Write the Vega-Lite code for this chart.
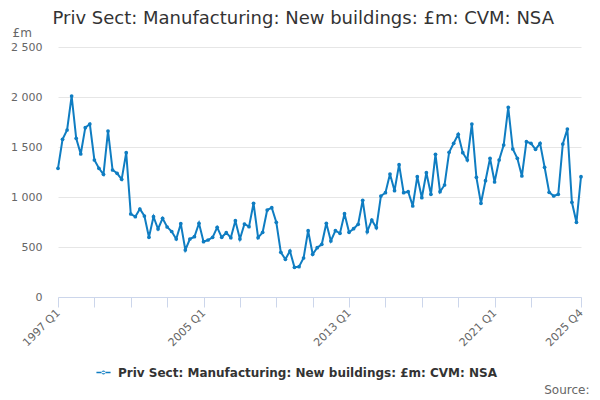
{
  "$schema": "https://vega.github.io/schema/vega-lite/v6.json",
  "autosize": "none",
  "width": 523,
  "height": 250,
  "padding": {"left": 58, "top": 47, "right": 19, "bottom": 103},
  "title": {
    "text": "Priv Sect: Manufacturing: New buildings: £m: CVM: NSA",
    "anchor": "start",
    "font": "DejaVu Sans",
    "fontSize": 18,
    "fontWeight": "normal",
    "color": "#333333",
    "dx": 42,
    "dy": 2,
    "offset": 0
  },
  "data": {
    "values": [
      {"q": "1997 Q1", "v": 1287}, {"q": "1997 Q2", "v": 1577}, {"q": "1997 Q3", "v": 1670}, {"q": "1997 Q4", "v": 2010},
      {"q": "1998 Q1", "v": 1587}, {"q": "1998 Q2", "v": 1430}, {"q": "1998 Q3", "v": 1693}, {"q": "1998 Q4", "v": 1730},
      {"q": "1999 Q1", "v": 1370}, {"q": "1999 Q2", "v": 1287}, {"q": "1999 Q3", "v": 1227}, {"q": "1999 Q4", "v": 1660},
      {"q": "2000 Q1", "v": 1270}, {"q": "2000 Q2", "v": 1237}, {"q": "2000 Q3", "v": 1177}, {"q": "2000 Q4", "v": 1443},
      {"q": "2001 Q1", "v": 830}, {"q": "2001 Q2", "v": 803}, {"q": "2001 Q3", "v": 880}, {"q": "2001 Q4", "v": 810},
      {"q": "2002 Q1", "v": 597}, {"q": "2002 Q2", "v": 803}, {"q": "2002 Q3", "v": 680}, {"q": "2002 Q4", "v": 787},
      {"q": "2003 Q1", "v": 700}, {"q": "2003 Q2", "v": 655}, {"q": "2003 Q3", "v": 580}, {"q": "2003 Q4", "v": 733},
      {"q": "2004 Q1", "v": 470}, {"q": "2004 Q2", "v": 580}, {"q": "2004 Q3", "v": 603}, {"q": "2004 Q4", "v": 737},
      {"q": "2005 Q1", "v": 553}, {"q": "2005 Q2", "v": 570}, {"q": "2005 Q3", "v": 597}, {"q": "2005 Q4", "v": 697},
      {"q": "2006 Q1", "v": 597}, {"q": "2006 Q2", "v": 643}, {"q": "2006 Q3", "v": 593}, {"q": "2006 Q4", "v": 763},
      {"q": "2007 Q1", "v": 580}, {"q": "2007 Q2", "v": 730}, {"q": "2007 Q3", "v": 703}, {"q": "2007 Q4", "v": 937},
      {"q": "2008 Q1", "v": 593}, {"q": "2008 Q2", "v": 647}, {"q": "2008 Q3", "v": 870}, {"q": "2008 Q4", "v": 893},
      {"q": "2009 Q1", "v": 747}, {"q": "2009 Q2", "v": 447}, {"q": "2009 Q3", "v": 377}, {"q": "2009 Q4", "v": 460},
      {"q": "2010 Q1", "v": 297}, {"q": "2010 Q2", "v": 303}, {"q": "2010 Q3", "v": 390}, {"q": "2010 Q4", "v": 663},
      {"q": "2011 Q1", "v": 427}, {"q": "2011 Q2", "v": 493}, {"q": "2011 Q3", "v": 527}, {"q": "2011 Q4", "v": 737},
      {"q": "2012 Q1", "v": 560}, {"q": "2012 Q2", "v": 663}, {"q": "2012 Q3", "v": 637}, {"q": "2012 Q4", "v": 833},
      {"q": "2013 Q1", "v": 647}, {"q": "2013 Q2", "v": 683}, {"q": "2013 Q3", "v": 727}, {"q": "2013 Q4", "v": 967},
      {"q": "2014 Q1", "v": 653}, {"q": "2014 Q2", "v": 770}, {"q": "2014 Q3", "v": 693}, {"q": "2014 Q4", "v": 1010},
      {"q": "2015 Q1", "v": 1043}, {"q": "2015 Q2", "v": 1230}, {"q": "2015 Q3", "v": 1063}, {"q": "2015 Q4", "v": 1323},
      {"q": "2016 Q1", "v": 1043}, {"q": "2016 Q2", "v": 1053}, {"q": "2016 Q3", "v": 910}, {"q": "2016 Q4", "v": 1203},
      {"q": "2017 Q1", "v": 993}, {"q": "2017 Q2", "v": 1243}, {"q": "2017 Q3", "v": 1027}, {"q": "2017 Q4", "v": 1427},
      {"q": "2018 Q1", "v": 1053}, {"q": "2018 Q2", "v": 1120}, {"q": "2018 Q3", "v": 1447}, {"q": "2018 Q4", "v": 1537},
      {"q": "2019 Q1", "v": 1627}, {"q": "2019 Q2", "v": 1443}, {"q": "2019 Q3", "v": 1370}, {"q": "2019 Q4", "v": 1730},
      {"q": "2020 Q1", "v": 1197}, {"q": "2020 Q2", "v": 937}, {"q": "2020 Q3", "v": 1163}, {"q": "2020 Q4", "v": 1387},
      {"q": "2021 Q1", "v": 1150}, {"q": "2021 Q2", "v": 1370}, {"q": "2021 Q3", "v": 1520}, {"q": "2021 Q4", "v": 1897},
      {"q": "2022 Q1", "v": 1480}, {"q": "2022 Q2", "v": 1387}, {"q": "2022 Q3", "v": 1210}, {"q": "2022 Q4", "v": 1553},
      {"q": "2023 Q1", "v": 1537}, {"q": "2023 Q2", "v": 1477}, {"q": "2023 Q3", "v": 1537}, {"q": "2023 Q4", "v": 1297},
      {"q": "2024 Q1", "v": 1047}, {"q": "2024 Q2", "v": 1010}, {"q": "2024 Q3", "v": 1027}, {"q": "2024 Q4", "v": 1530},
      {"q": "2025 Q1", "v": 1680}, {"q": "2025 Q2", "v": 947}, {"q": "2025 Q3", "v": 747}, {"q": "2025 Q4", "v": 1203}
    ]
  },
  "mark": {
    "type": "line",
    "strokeWidth": 2,
    "point": {"filled": true, "size": 14}
  },
  "encoding": {
    "x": {
      "field": "q",
      "type": "ordinal",
      "sort": null,
      "scale": {"type": "point", "padding": 0},
      "axis": {
        "title": "Source:",
        "titleAnchor": "end",
        "titleAlign": "right",
        "titleX": 531,
        "titleY": 92,
        "titleBaseline": "middle",
        "titleFont": "DejaVu Sans",
        "titleFontSize": 12,
        "titleFontWeight": "normal",
        "titleColor": "#666666",
        "values": ["1997 Q1", "1999 Q1", "2001 Q1", "2003 Q1", "2005 Q1", "2007 Q1", "2009 Q1", "2011 Q1", "2013 Q1", "2015 Q1", "2017 Q1", "2019 Q1", "2021 Q1", "2023 Q1", "2025 Q4"],
        "labelExpr": "indexof(['1997 Q1', '2005 Q1', '2013 Q1', '2021 Q1', '2025 Q4'], datum.label) >= 0 ? datum.label : ''",
        "labelAngle": -45,
        "labelAlign": "right",
        "labelBaseline": "middle",
        "labelPadding": 4,
        "labelFont": "DejaVu Sans",
        "labelFontSize": 11,
        "labelColor": "#666666",
        "labelOverlap": false,
        "domainColor": "#ccd6eb",
        "tickColor": "#ccd6eb",
        "tickSize": 10,
        "grid": false
      }
    },
    "y": {
      "field": "v",
      "type": "quantitative",
      "scale": {"domain": [0, 2500]},
      "axis": {
        "title": "£m",
        "titleAngle": 0,
        "titleAlign": "left",
        "titleBaseline": "middle",
        "titleX": -46,
        "titleY": -15,
        "titleFont": "DejaVu Sans",
        "titleFontSize": 12,
        "titleFontWeight": "normal",
        "titleColor": "#666666",
        "values": [0, 500, 1000, 1500, 2000, 2500],
        "labelExpr": "replace(format(datum.value, ','), ',', ' ')",
        "labelFont": "DejaVu Sans",
        "labelFontSize": 11,
        "labelColor": "#666666",
        "labelPadding": 16,
        "domain": false,
        "ticks": false,
        "gridColor": "#e6e6e6"
      }
    },
    "color": {
      "datum": "Priv Sect: Manufacturing: New buildings: £m: CVM: NSA",
      "scale": {"range": ["#0f7dc2"]},
      "legend": {
        "title": null,
        "orient": "none",
        "legendX": 38,
        "legendY": 318,
        "symbolType": "M-1,-0.1L1,-0.1L1,0.1L-1,0.1Z M-0.28,0A0.28,0.28 0 1,0 0.28,0A0.28,0.28 0 1,0 -0.28,0Z",
        "symbolSize": 200,
        "symbolFillColor": "#0f7dc2",
        "symbolStrokeColor": "#0f7dc2",
        "symbolStrokeWidth": 0,
        "labelOffset": 7,
        "labelFont": "DejaVu Sans",
        "labelFontSize": 12,
        "labelFontWeight": "bold",
        "labelColor": "#333333",
        "labelLimit": 0
      }
    }
  },
  "config": {
    "view": {"stroke": null},
    "background": "#ffffff"
  }
}
